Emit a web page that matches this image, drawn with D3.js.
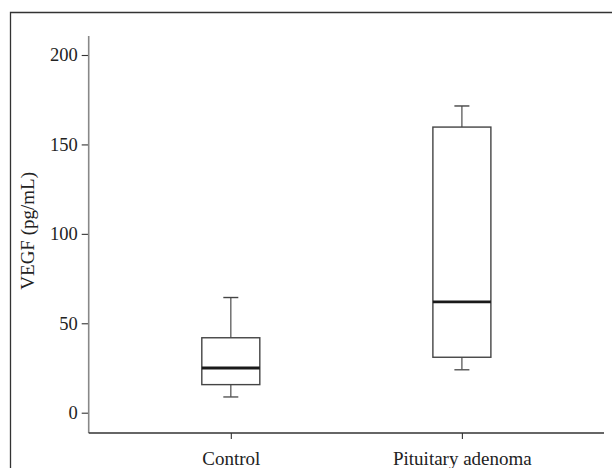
<!DOCTYPE html>
<html>
<head>
<meta charset="utf-8">
<script src="https://cdn.jsdelivr.net/npm/d3@7"></script>
<style>
  body { margin: 0; background: #fff; }
  svg { display: block; }
  text { font-family: "Liberation Serif", "DejaVu Serif", serif; fill: #222; }
</style>
</head>
<body>
<div id="viz"></div>
<script>
// box plot stats
const groups = ["Control", "Pituitary adenoma"];
const whiskerLow = [8.8, 24.0];
const q1 = [15.7, 31.0];
const median = [25.0, 62.0];
const q3 = [41.9, 159.7];
const whiskerHigh = [64.4, 171.5];
const yTicks = [0, 50, 100, 150, 200];

const width = 612;
const height = 468;

const svg = d3.select('#viz')
  .append("svg")
  .attr("width", width)
  .attr("height", height);

// outer frame (top and left edge only visible)
svg.append("path")
  .attr("d", "M10.5,468V12.5H612")
  .attr("fill", "none")
  .attr("stroke", "#333")
  .attr("stroke-width", 1.3);

const left = 88.7, right = 604, axisY = 433;

const y = d3.scaleLinear().domain([0, 200]).range([412.7, 55]);
const x = d3.scalePoint().domain(groups).range([left, right]).padding(0.615);

// y axis
const yAxis = svg.append("g")
  .attr("transform", `translate(${left},0)`)
  .call(d3.axisLeft(y).tickValues(yTicks).tickSize(7).tickPadding(4).tickSizeOuter(0));
yAxis.select(".domain").remove();
yAxis.selectAll(".tick line").attr("stroke", "#333").attr("stroke-width", 1.1);
yAxis.selectAll(".tick text")
  .style("font-size", "18.5px")
  .style("font-family", "Liberation Serif")
  .attr("fill", "#222");
svg.append("line")
  .attr("x1", left).attr("x2", left)
  .attr("y1", 36).attr("y2", axisY)
  .attr("stroke", "#888").attr("stroke-width", 1.6);

// x axis
const xAxis = svg.append("g")
  .attr("transform", `translate(0,${axisY})`)
  .call(d3.axisBottom(x).tickSize(6).tickPadding(13).tickSizeOuter(0));
xAxis.select(".domain").remove();
xAxis.selectAll(".tick line").attr("stroke", "#333").attr("stroke-width", 1.1);
xAxis.selectAll(".tick text")
  .style("font-size", "19px")
  .style("font-family", "Liberation Serif")
  .attr("fill", "#222");
svg.append("line")
  .attr("x1", left).attr("x2", right)
  .attr("y1", axisY).attr("y2", axisY)
  .attr("stroke", "#333").attr("stroke-width", 1.4);

// y axis title
svg.append("text")
  .attr("transform", `translate(34,${(y(0) + y(200)) / 2 - 3}) rotate(-90)`)
  .attr("text-anchor", "middle")
  .style("font-size", "19px")
  .text("VEGF (pg/mL)");

const data = groups.map((g, i) => ({
  group: g, lo: whiskerLow[i], q1: q1[i], med: median[i], q3: q3[i], hi: whiskerHigh[i]
}));

const boxW = 58, capW = 15;

const boxes = svg.selectAll(".box")
  .data(data)
  .enter().append("g")
  .attr("class", "box")
  .attr("transform", d => `translate(${x(d.group)},0)`);

// whiskers
boxes.append("line")
  .attr("x1", 0).attr("x2", 0)
  .attr("y1", d => y(d.hi)).attr("y2", d => y(d.q3))
  .attr("stroke", "#666").attr("stroke-width", 1.4);
boxes.append("line")
  .attr("x1", 0).attr("x2", 0)
  .attr("y1", d => y(d.q1)).attr("y2", d => y(d.lo))
  .attr("stroke", "#666").attr("stroke-width", 1.4);
boxes.append("line")
  .attr("x1", -capW / 2).attr("x2", capW / 2)
  .attr("y1", d => y(d.hi)).attr("y2", d => y(d.hi))
  .attr("stroke", "#444").attr("stroke-width", 1.4);
boxes.append("line")
  .attr("x1", -capW / 2).attr("x2", capW / 2)
  .attr("y1", d => y(d.lo)).attr("y2", d => y(d.lo))
  .attr("stroke", "#555").attr("stroke-width", 1.4);

// box
boxes.append("rect")
  .attr("x", -boxW / 2)
  .attr("width", boxW)
  .attr("y", d => y(d.q3))
  .attr("height", d => y(d.q1) - y(d.q3))
  .attr("fill", "#fff")
  .attr("stroke", "#444")
  .attr("stroke-width", 1.4);

// median
boxes.append("line")
  .attr("x1", -boxW / 2).attr("x2", boxW / 2)
  .attr("y1", d => y(d.med)).attr("y2", d => y(d.med))
  .attr("stroke", "#1a1a1a").attr("stroke-width", 2.8);
</script>
</body>
</html>
